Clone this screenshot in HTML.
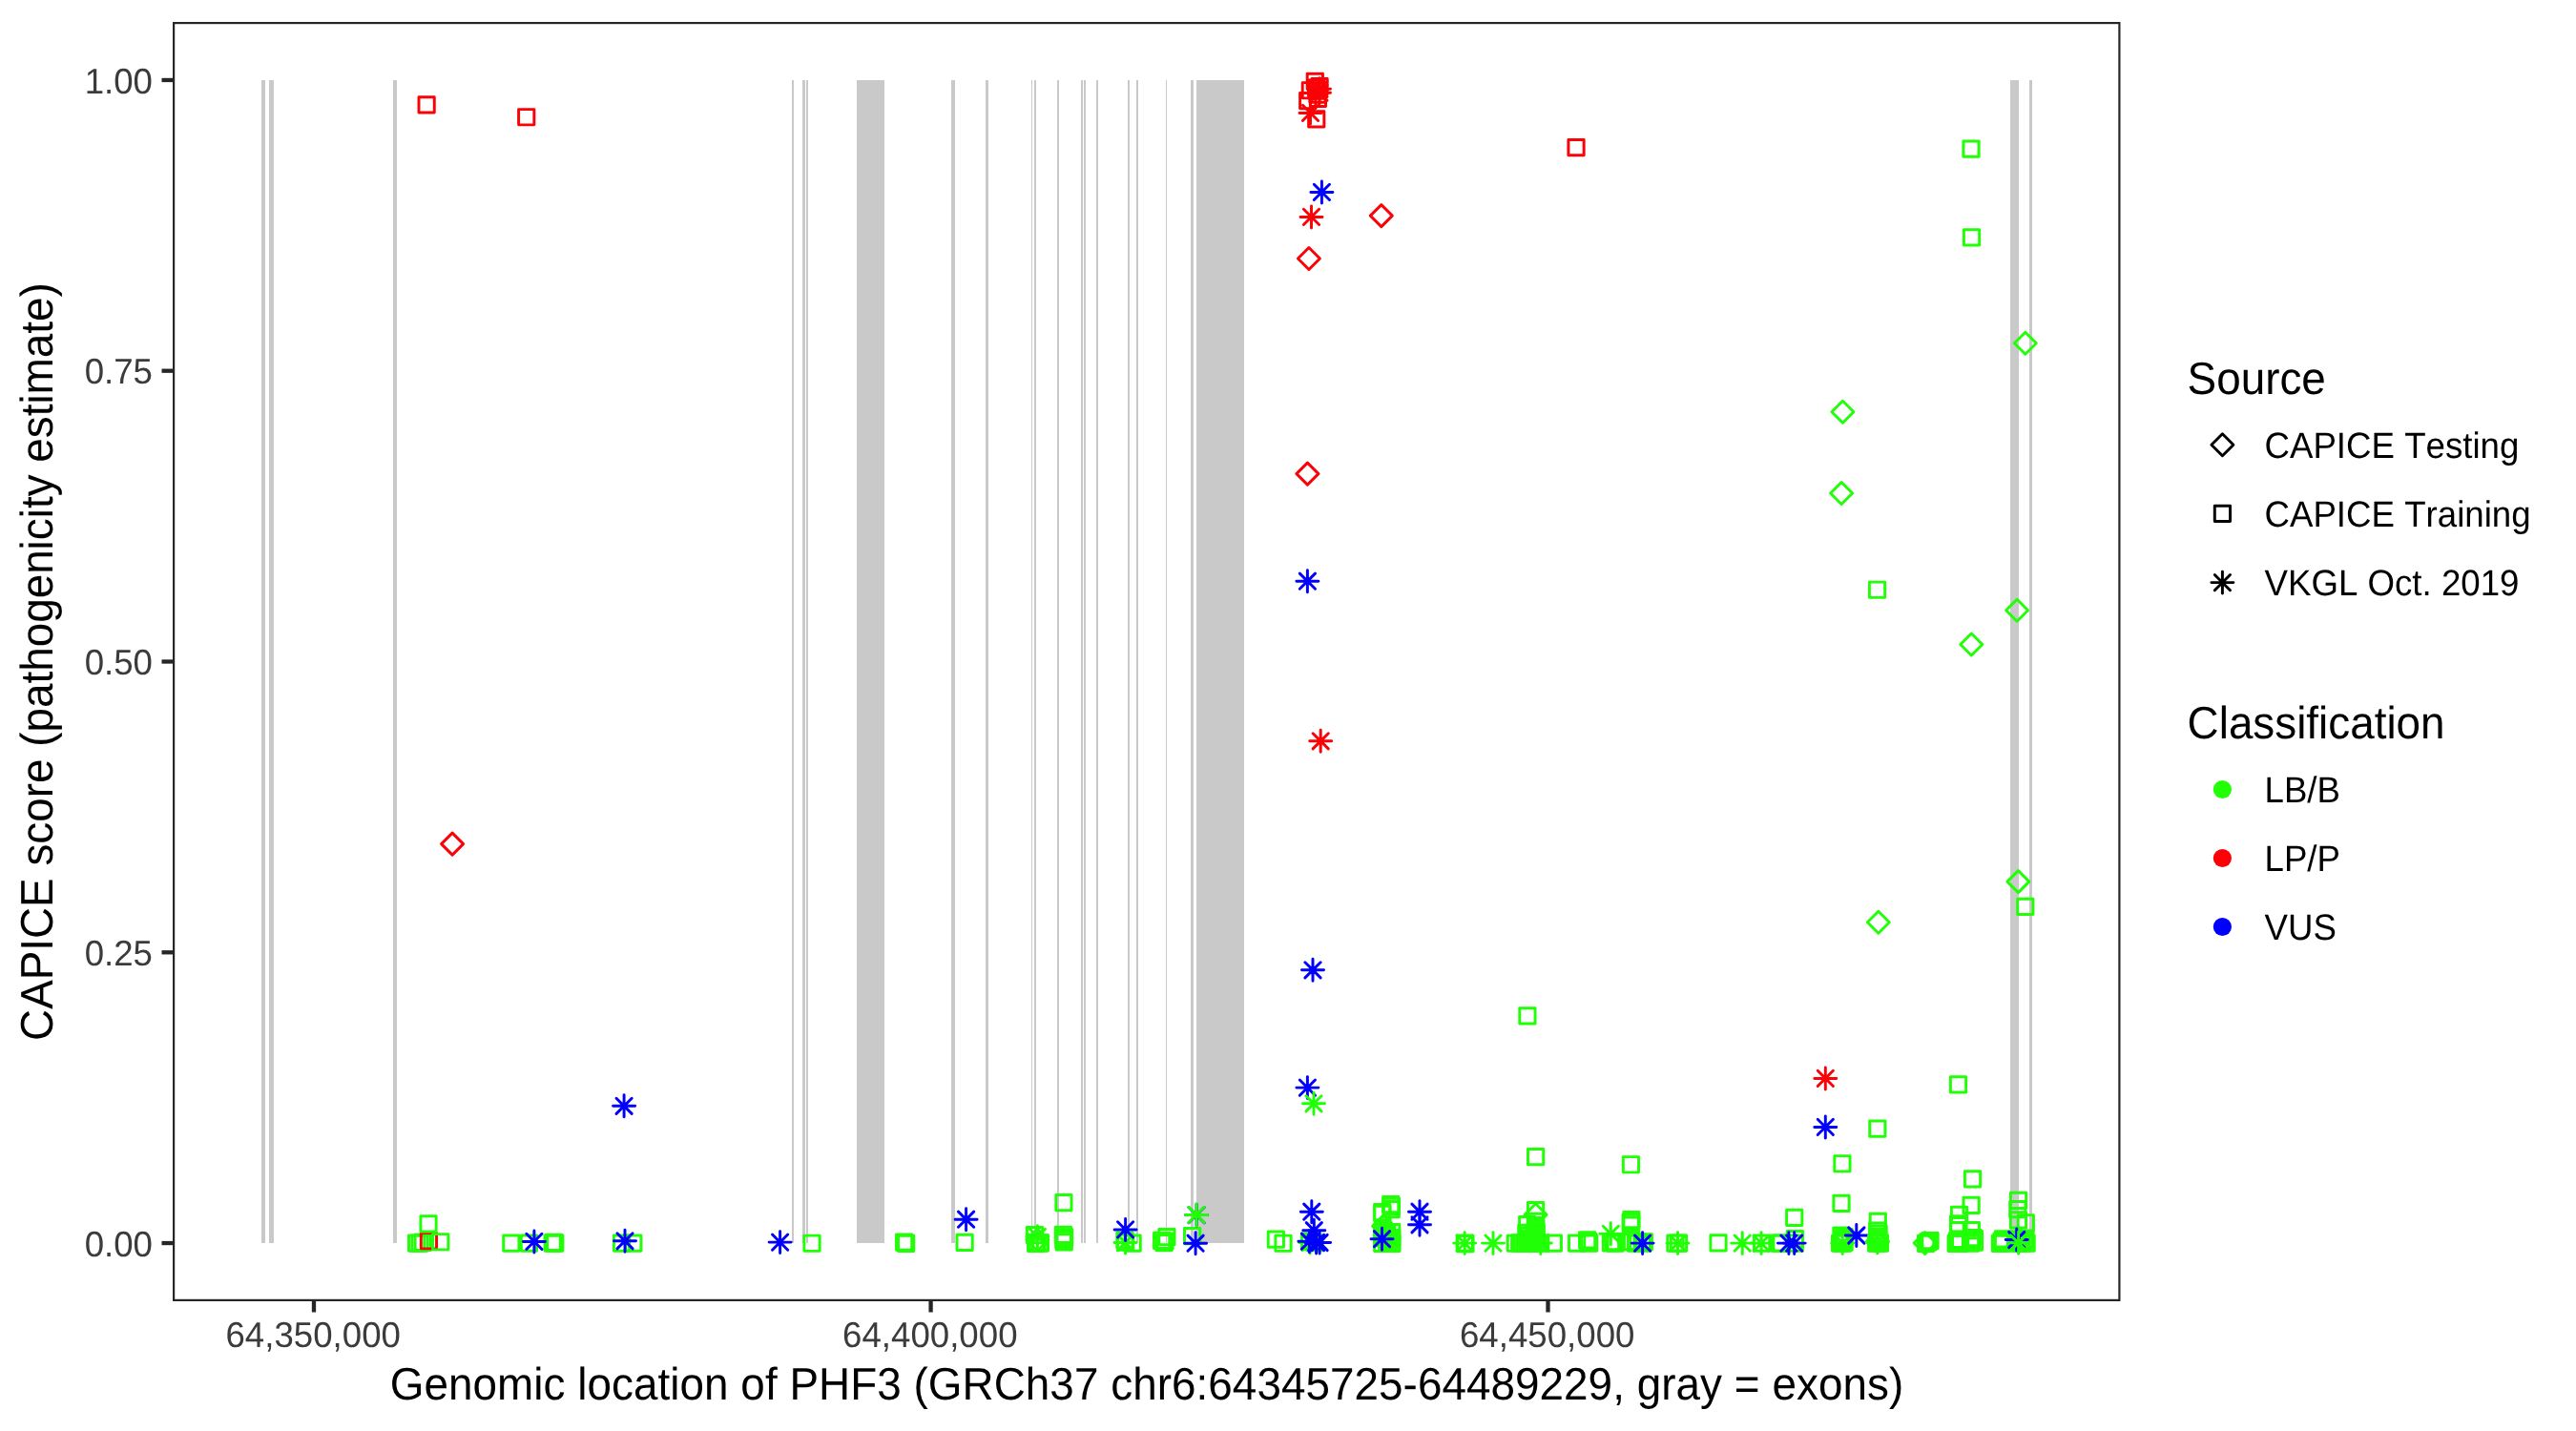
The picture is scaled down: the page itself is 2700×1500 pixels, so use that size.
<!DOCTYPE html>
<html lang="en"><head><meta charset="utf-8"><title>CAPICE score PHF3</title>
<style>html,body{margin:0;padding:0;background:#fff}svg{display:block;will-change:transform}text{font-family:"Liberation Sans",sans-serif;font-kerning:none;text-rendering:geometricPrecision}.at{font-size:36.67px;fill:#3b3b3b}.tt{font-size:45.83px;fill:#000}.lt{font-size:36.67px;fill:#000}</style></head><body>
<svg width="2700" height="1500" viewBox="0 0 2700 1500">
<rect width="2700" height="1500" fill="#fff"/>
<g fill="#c9c9c9" shape-rendering="crispEdges">
<rect x="274" y="84" width="4" height="1219"/>
<rect x="282" y="84" width="5" height="1219"/>
<rect x="412" y="84" width="4" height="1219"/>
<rect x="830" y="84" width="2" height="1219"/>
<rect x="841" y="84" width="3" height="1219"/>
<rect x="845" y="84" width="2" height="1219"/>
<rect x="898" y="84" width="29" height="1219"/>
<rect x="997" y="84" width="4" height="1219"/>
<rect x="1033" y="84" width="3" height="1219"/>
<rect x="1081" y="84" width="1" height="1219"/>
<rect x="1084" y="84" width="2" height="1219"/>
<rect x="1108" y="84" width="2" height="1219"/>
<rect x="1133" y="84" width="2" height="1219"/>
<rect x="1136" y="84" width="2" height="1219"/>
<rect x="1149" y="84" width="2" height="1219"/>
<rect x="1182" y="84" width="2" height="1219"/>
<rect x="1191" y="84" width="2" height="1219"/>
<rect x="1222" y="84" width="1" height="1219"/>
<rect x="1248" y="84" width="3" height="1219"/>
<rect x="1254" y="84" width="50" height="1219"/>
<rect x="2107" y="84" width="9" height="1219"/>
<rect x="2127" y="84" width="3" height="1219"/>
</g>
<g fill="none" stroke-width="2.95" stroke-linecap="round" stroke-linejoin="round">
<rect x="439.0" y="101.8" width="16.25" height="16.25" stroke="#fb0207"/>
<rect x="543.6" y="114.6" width="16.25" height="16.25" stroke="#fb0207"/>
<path d="M462.6 884.6L474.1 873.1L485.6 884.6L474.1 896.1Z" stroke="#fb0207"/>
<path d="M642.6 1159.3H665.6M654.1 1147.8V1170.8M646.0 1151.2L662.2 1167.4M646.0 1167.4L662.2 1151.2" stroke="#0000ff"/>
<rect x="428.5" y="1294.9" width="16.25" height="16.25" stroke="#21ff06"/>
<rect x="431.9" y="1294.9" width="16.25" height="16.25" stroke="#21ff06"/>
<rect x="435.1" y="1294.3" width="16.25" height="16.25" stroke="#21ff06"/>
<rect x="441.3" y="1292.6" width="16.25" height="16.25" stroke="#fb0207"/>
<rect x="440.9" y="1274.7" width="16.25" height="16.25" stroke="#21ff06"/>
<rect x="453.6" y="1293.6" width="16.25" height="16.25" stroke="#21ff06"/>
<rect x="527.7" y="1295.0" width="16.25" height="16.25" stroke="#21ff06"/>
<rect x="546.3" y="1295.0" width="16.25" height="16.25" stroke="#21ff06"/>
<rect x="571.0" y="1295.0" width="16.25" height="16.25" stroke="#21ff06"/>
<rect x="573.6" y="1295.0" width="16.25" height="16.25" stroke="#21ff06"/>
<rect x="572.3" y="1294.1" width="16.25" height="16.25" stroke="#21ff06"/>
<path d="M548.4 1301.4H571.4M559.9 1289.9V1312.9M551.8 1293.3L568.0 1309.5M551.8 1309.5L568.0 1293.3" stroke="#0000ff"/>
<rect x="643.4" y="1294.9" width="16.25" height="16.25" stroke="#21ff06"/>
<rect x="655.7" y="1294.9" width="16.25" height="16.25" stroke="#21ff06"/>
<path d="M643.5 1300.8H666.5M655.0 1289.3V1312.3M646.9 1292.7L663.1 1308.9M646.9 1308.9L663.1 1292.7" stroke="#0000ff"/>
<path d="M806.1 1302.1H829.1M817.6 1290.6V1313.6M809.5 1294.0L825.7 1310.2M809.5 1310.2L825.7 1294.0" stroke="#0000ff"/>
<rect x="842.9" y="1295.1" width="16.25" height="16.25" stroke="#21ff06"/>
<rect x="939.5" y="1294.0" width="16.25" height="16.25" stroke="#21ff06"/>
<rect x="941.5" y="1295.2" width="16.25" height="16.25" stroke="#21ff06"/>
<rect x="1003.0" y="1294.3" width="16.25" height="16.25" stroke="#21ff06"/>
<path d="M1001.1 1278.2H1024.1M1012.6 1266.7V1289.7M1004.5 1270.1L1020.7 1286.3M1004.5 1286.3L1020.7 1270.1" stroke="#0000ff"/>
<rect x="1076.4" y="1286.5" width="16.25" height="16.25" stroke="#21ff06"/>
<rect x="1077.5" y="1295.3" width="16.25" height="16.25" stroke="#21ff06"/>
<rect x="1082.3" y="1294.6" width="16.25" height="16.25" stroke="#21ff06"/>
<rect x="1078.4" y="1294.2" width="16.25" height="16.25" stroke="#21ff06"/>
<rect x="1081.6" y="1294.9" width="16.25" height="16.25" stroke="#21ff06"/>
<path d="M1075.9 1299.5L1087.4 1288.0L1098.9 1299.5L1087.4 1311.0Z" stroke="#21ff06"/>
<path d="M1075.9 1296.3H1098.9M1087.4 1284.8V1307.8M1079.3 1288.2L1095.5 1304.4M1079.3 1304.4L1095.5 1288.2" stroke="#21ff06"/>
<rect x="1106.8" y="1252.5" width="16.25" height="16.25" stroke="#21ff06"/>
<rect x="1106.3" y="1286.3" width="16.25" height="16.25" stroke="#21ff06"/>
<rect x="1107.5" y="1288.8" width="16.25" height="16.25" stroke="#21ff06"/>
<rect x="1106.7" y="1291.3" width="16.25" height="16.25" stroke="#21ff06"/>
<rect x="1107.1" y="1293.7" width="16.25" height="16.25" stroke="#21ff06"/>
<path d="M1168.0 1302.5H1191.0M1179.5 1291.0V1314.0M1171.4 1294.4L1187.6 1310.6M1171.4 1310.6L1187.6 1294.4" stroke="#21ff06"/>
<rect x="1170.8" y="1292.1" width="16.25" height="16.25" stroke="#21ff06"/>
<rect x="1171.5" y="1294.0" width="16.25" height="16.25" stroke="#21ff06"/>
<rect x="1179.0" y="1295.0" width="16.25" height="16.25" stroke="#21ff06"/>
<path d="M1168.1 1288.9H1191.1M1179.6 1277.4V1300.4M1171.5 1280.8L1187.7 1297.0M1171.5 1297.0L1187.7 1280.8" stroke="#0000ff"/>
<rect x="1214.8" y="1288.5" width="16.25" height="16.25" stroke="#21ff06"/>
<rect x="1209.5" y="1292.3" width="16.25" height="16.25" stroke="#21ff06"/>
<rect x="1211.9" y="1294.4" width="16.25" height="16.25" stroke="#21ff06"/>
<rect x="1212.9" y="1292.9" width="16.25" height="16.25" stroke="#21ff06"/>
<rect x="1241.5" y="1287.5" width="16.25" height="16.25" stroke="#21ff06"/>
<path d="M1242.6 1273.6H1265.6M1254.1 1262.1V1285.1M1246.0 1265.5L1262.2 1281.7M1246.0 1281.7L1262.2 1265.5" stroke="#0000ff"/>
<path d="M1242.5 1273.4H1265.5M1254.0 1261.9V1284.9M1245.9 1265.3L1262.1 1281.5M1245.9 1281.5L1262.1 1265.3" stroke="#21ff06"/>
<path d="M1241.6 1303.2H1264.6M1253.1 1291.7V1314.7M1245.0 1295.1L1261.2 1311.3M1245.0 1311.3L1261.2 1295.1" stroke="#0000ff"/>
<rect x="1329.2" y="1290.9" width="16.25" height="16.25" stroke="#21ff06"/>
<rect x="1336.9" y="1295.1" width="16.25" height="16.25" stroke="#21ff06"/>
<rect x="1364.5" y="1292.9" width="16.25" height="16.25" stroke="#21ff06"/>
<rect x="1370.0" y="1294.6" width="16.25" height="16.25" stroke="#21ff06"/>
<path d="M1361.6 1302.5H1384.6M1373.1 1291.0V1314.0M1365.0 1294.4L1381.2 1310.6M1365.0 1310.6L1381.2 1294.4" stroke="#21ff06"/>
<path d="M1363.3 1270.2H1386.3M1374.8 1258.7V1281.7M1366.7 1262.1L1382.9 1278.3M1366.7 1278.3L1382.9 1262.1" stroke="#0000ff"/>
<path d="M1365.8 1289.7H1388.8M1377.3 1278.2V1301.2M1369.2 1281.6L1385.4 1297.8M1369.2 1297.8L1385.4 1281.6" stroke="#0000ff"/>
<path d="M1360.9 1301.2H1383.9M1372.4 1289.7V1312.7M1364.3 1293.1L1380.5 1309.3M1364.3 1309.3L1380.5 1293.1" stroke="#0000ff"/>
<path d="M1368.1 1302.5H1391.1M1379.6 1291.0V1314.0M1371.5 1294.4L1387.7 1310.6M1371.5 1310.6L1387.7 1294.4" stroke="#0000ff"/>
<path d="M1371.6 1302.5H1394.6M1383.1 1291.0V1314.0M1375.0 1294.4L1391.2 1310.6M1375.0 1310.6L1391.2 1294.4" stroke="#0000ff"/>
<path d="M1358.9 1140.1H1381.9M1370.4 1128.6V1151.6M1362.3 1132.0L1378.5 1148.2M1362.3 1148.2L1378.5 1132.0" stroke="#0000ff"/>
<path d="M1365.5 1156.8H1388.5M1377.0 1145.3V1168.3M1368.9 1148.7L1385.1 1164.9M1368.9 1164.9L1385.1 1148.7" stroke="#21ff06"/>
<path d="M1364.5 1016.8H1387.5M1376.0 1005.3V1028.3M1367.9 1008.7L1384.1 1024.9M1367.9 1024.9L1384.1 1008.7" stroke="#0000ff"/>
<path d="M1358.9 609.2H1381.9M1370.4 597.7V620.7M1362.3 601.1L1378.5 617.3M1362.3 617.3L1378.5 601.1" stroke="#0000ff"/>
<path d="M1358.9 496.6L1370.4 485.1L1381.9 496.6L1370.4 508.1Z" stroke="#fb0207"/>
<path d="M1372.7 776.8H1395.7M1384.2 765.3V788.3M1376.1 768.7L1392.3 784.9M1376.1 784.9L1392.3 768.7" stroke="#fb0207"/>
<path d="M1360.4 271.0L1371.9 259.5L1383.4 271.0L1371.9 282.5Z" stroke="#fb0207"/>
<path d="M1363.0 227.4H1386.0M1374.5 215.9V238.9M1366.4 219.3L1382.6 235.5M1366.4 235.5L1382.6 219.3" stroke="#fb0207"/>
<path d="M1373.9 201.4H1396.9M1385.4 189.9V212.9M1377.3 193.3L1393.5 209.5M1377.3 209.5L1393.5 193.3" stroke="#0000ff"/>
<path d="M1436.3 226.1L1447.8 214.6L1459.3 226.1L1447.8 237.6Z" stroke="#fb0207"/>
<rect x="1370.2" y="77.3" width="16.25" height="16.25" stroke="#fb0207"/>
<rect x="1374.9" y="82.4" width="16.25" height="16.25" stroke="#fb0207"/>
<rect x="1365.2" y="86.6" width="16.25" height="16.25" stroke="#fb0207"/>
<rect x="1362.6" y="97.5" width="16.25" height="16.25" stroke="#fb0207"/>
<rect x="1373.3" y="95.2" width="16.25" height="16.25" stroke="#fb0207"/>
<rect x="1371.9" y="86.9" width="16.25" height="16.25" stroke="#fb0207"/>
<rect x="1372.9" y="90.9" width="16.25" height="16.25" stroke="#fb0207"/>
<rect x="1371.4" y="83.9" width="16.25" height="16.25" stroke="#fb0207"/>
<path d="M1371.5 93.3H1394.5M1383.0 81.8V104.8M1374.9 85.2L1391.1 101.4M1374.9 101.4L1391.1 85.2" stroke="#fb0207"/>
<path d="M1371.5 97.2H1394.5M1383.0 85.7V108.7M1374.9 89.1L1391.1 105.3M1374.9 105.3L1391.1 89.1" stroke="#fb0207"/>
<rect x="1371.6" y="116.7" width="16.25" height="16.25" stroke="#fb0207"/>
<path d="M1362.0 118.4H1385.0M1373.5 106.9V129.9M1365.4 110.3L1381.6 126.5M1365.4 126.5L1381.6 110.3" stroke="#fb0207"/>
<rect x="1449.6" y="1254.5" width="16.25" height="16.25" stroke="#21ff06"/>
<rect x="1450.3" y="1256.2" width="16.25" height="16.25" stroke="#21ff06"/>
<rect x="1450.1" y="1259.4" width="16.25" height="16.25" stroke="#21ff06"/>
<rect x="1440.6" y="1262.5" width="16.25" height="16.25" stroke="#21ff06"/>
<rect x="1440.8" y="1264.2" width="16.25" height="16.25" stroke="#21ff06"/>
<path d="M1438.6 1285.2L1450.1 1273.7L1461.6 1285.2L1450.1 1296.7Z" stroke="#21ff06"/>
<rect x="1440.6" y="1283.5" width="16.25" height="16.25" stroke="#21ff06"/>
<rect x="1443.1" y="1286.4" width="16.25" height="16.25" stroke="#21ff06"/>
<rect x="1445.6" y="1289.3" width="16.25" height="16.25" stroke="#21ff06"/>
<rect x="1448.1" y="1292.2" width="16.25" height="16.25" stroke="#21ff06"/>
<rect x="1450.6" y="1295.1" width="16.25" height="16.25" stroke="#21ff06"/>
<rect x="1440.6" y="1295.2" width="16.25" height="16.25" stroke="#21ff06"/>
<rect x="1450.6" y="1283.5" width="16.25" height="16.25" stroke="#21ff06"/>
<rect x="1445.6" y="1295.2" width="16.25" height="16.25" stroke="#21ff06"/>
<rect x="1450.6" y="1295.2" width="16.25" height="16.25" stroke="#21ff06"/>
<rect x="1440.6" y="1289.4" width="16.25" height="16.25" stroke="#21ff06"/>
<rect x="1450.6" y="1289.4" width="16.25" height="16.25" stroke="#21ff06"/>
<rect x="1445.6" y="1284.4" width="16.25" height="16.25" stroke="#21ff06"/>
<path d="M1437.0 1298.7H1460.0M1448.5 1287.2V1310.2M1440.4 1290.6L1456.6 1306.8M1440.4 1306.8L1456.6 1290.6" stroke="#0000ff"/>
<path d="M1476.5 1270.2H1499.5M1488.0 1258.7V1281.7M1479.9 1262.1L1496.1 1278.3M1479.9 1278.3L1496.1 1262.1" stroke="#0000ff"/>
<path d="M1476.5 1283.8H1499.5M1488.0 1272.3V1295.3M1479.9 1275.7L1496.1 1291.9M1479.9 1291.9L1496.1 1275.7" stroke="#0000ff"/>
<rect x="1527.1" y="1295.0" width="16.25" height="16.25" stroke="#21ff06"/>
<rect x="1527.8" y="1295.4" width="16.25" height="16.25" stroke="#21ff06"/>
<path d="M1523.7 1303.1H1546.7M1535.2 1291.6V1314.6M1527.1 1295.0L1543.3 1311.2M1527.1 1311.2L1543.3 1295.0" stroke="#21ff06"/>
<path d="M1553.5 1303.1H1576.5M1565.0 1291.6V1314.6M1556.9 1295.0L1573.1 1311.2M1556.9 1311.2L1573.1 1295.0" stroke="#21ff06"/>
<rect x="1580.2" y="1295.1" width="16.25" height="16.25" stroke="#21ff06"/>
<rect x="1584.6" y="1294.7" width="16.25" height="16.25" stroke="#21ff06"/>
<rect x="1587.4" y="1295.1" width="16.25" height="16.25" stroke="#21ff06"/>
<rect x="1590.3" y="1294.7" width="16.25" height="16.25" stroke="#21ff06"/>
<rect x="1593.2" y="1295.1" width="16.25" height="16.25" stroke="#21ff06"/>
<rect x="1596.1" y="1294.7" width="16.25" height="16.25" stroke="#21ff06"/>
<rect x="1598.9" y="1295.1" width="16.25" height="16.25" stroke="#21ff06"/>
<rect x="1601.7" y="1294.7" width="16.25" height="16.25" stroke="#21ff06"/>
<rect x="1606.6" y="1294.9" width="16.25" height="16.25" stroke="#21ff06"/>
<rect x="1601.5" y="1204.5" width="16.25" height="16.25" stroke="#21ff06"/>
<rect x="1601.4" y="1260.5" width="16.25" height="16.25" stroke="#21ff06"/>
<path d="M1598.1 1273.2L1609.6 1261.7L1621.1 1273.2L1609.6 1284.7Z" stroke="#21ff06"/>
<rect x="1592.6" y="1275.5" width="16.25" height="16.25" stroke="#21ff06"/>
<rect x="1601.5" y="1272.3" width="16.25" height="16.25" stroke="#21ff06"/>
<rect x="1601.2" y="1276.4" width="16.25" height="16.25" stroke="#21ff06"/>
<rect x="1601.6" y="1279.3" width="16.25" height="16.25" stroke="#21ff06"/>
<rect x="1601.3" y="1281.9" width="16.25" height="16.25" stroke="#21ff06"/>
<rect x="1591.7" y="1284.3" width="16.25" height="16.25" stroke="#21ff06"/>
<rect x="1602.1" y="1284.5" width="16.25" height="16.25" stroke="#21ff06"/>
<rect x="1593.9" y="1287.2" width="16.25" height="16.25" stroke="#21ff06"/>
<rect x="1599.9" y="1287.2" width="16.25" height="16.25" stroke="#21ff06"/>
<rect x="1592.4" y="1290.1" width="16.25" height="16.25" stroke="#21ff06"/>
<rect x="1601.4" y="1290.1" width="16.25" height="16.25" stroke="#21ff06"/>
<rect x="1595.9" y="1293.0" width="16.25" height="16.25" stroke="#21ff06"/>
<rect x="1597.9" y="1291.9" width="16.25" height="16.25" stroke="#21ff06"/>
<path d="M1603.3 1303.0H1626.3M1614.8 1291.5V1314.5M1606.7 1294.9L1622.9 1311.1M1606.7 1311.1L1622.9 1294.9" stroke="#21ff06"/>
<rect x="1620.2" y="1294.9" width="16.25" height="16.25" stroke="#21ff06"/>
<rect x="1644.5" y="1294.9" width="16.25" height="16.25" stroke="#21ff06"/>
<rect x="1655.5" y="1291.8" width="16.25" height="16.25" stroke="#21ff06"/>
<rect x="1657.5" y="1294.9" width="16.25" height="16.25" stroke="#21ff06"/>
<rect x="1656.5" y="1293.4" width="16.25" height="16.25" stroke="#21ff06"/>
<rect x="1680.4" y="1294.7" width="16.25" height="16.25" stroke="#21ff06"/>
<rect x="1682.9" y="1293.5" width="16.25" height="16.25" stroke="#21ff06"/>
<rect x="1685.1" y="1294.9" width="16.25" height="16.25" stroke="#21ff06"/>
<rect x="1702.4" y="1293.5" width="16.25" height="16.25" stroke="#21ff06"/>
<rect x="1706.3" y="1295.0" width="16.25" height="16.25" stroke="#21ff06"/>
<rect x="1708.7" y="1293.9" width="16.25" height="16.25" stroke="#21ff06"/>
<rect x="1713.0" y="1295.0" width="16.25" height="16.25" stroke="#21ff06"/>
<path d="M1676.8 1293.3H1699.8M1688.3 1281.8V1304.8M1680.2 1285.2L1696.4 1301.4M1680.2 1301.4L1696.4 1285.2" stroke="#21ff06"/>
<rect x="1701.3" y="1212.6" width="16.25" height="16.25" stroke="#21ff06"/>
<rect x="1701.8" y="1270.5" width="16.25" height="16.25" stroke="#21ff06"/>
<rect x="1701.0" y="1273.2" width="16.25" height="16.25" stroke="#21ff06"/>
<rect x="1701.5" y="1275.9" width="16.25" height="16.25" stroke="#21ff06"/>
<rect x="1715.2" y="1293.7" width="16.25" height="16.25" stroke="#21ff06"/>
<path d="M1710.1 1303.1H1733.1M1721.6 1291.6V1314.6M1713.5 1295.0L1729.7 1311.2M1713.5 1311.2L1729.7 1295.0" stroke="#0000ff"/>
<rect x="1747.8" y="1295.0" width="16.25" height="16.25" stroke="#21ff06"/>
<rect x="1751.4" y="1295.0" width="16.25" height="16.25" stroke="#21ff06"/>
<path d="M1747.0 1303.1H1770.0M1758.5 1291.6V1314.6M1750.4 1295.0L1766.6 1311.2M1750.4 1311.2L1766.6 1295.0" stroke="#21ff06"/>
<rect x="1592.8" y="1056.8" width="16.25" height="16.25" stroke="#21ff06"/>
<rect x="1643.9" y="146.4" width="16.25" height="16.25" stroke="#fb0207"/>
<rect x="1792.9" y="1294.8" width="16.25" height="16.25" stroke="#21ff06"/>
<path d="M1814.7 1303.1H1837.7M1826.2 1291.6V1314.6M1818.1 1295.0L1834.3 1311.2M1818.1 1311.2L1834.3 1295.0" stroke="#21ff06"/>
<rect x="1838.5" y="1295.0" width="16.25" height="16.25" stroke="#21ff06"/>
<path d="M1834.6 1303.1H1857.6M1846.1 1291.6V1314.6M1838.0 1295.0L1854.2 1311.2M1838.0 1311.2L1854.2 1295.0" stroke="#21ff06"/>
<rect x="1856.9" y="1295.0" width="16.25" height="16.25" stroke="#21ff06"/>
<rect x="1858.9" y="1295.0" width="16.25" height="16.25" stroke="#21ff06"/>
<rect x="1872.6" y="1268.3" width="16.25" height="16.25" stroke="#21ff06"/>
<rect x="1873.2" y="1290.4" width="16.25" height="16.25" stroke="#21ff06"/>
<rect x="1873.2" y="1294.9" width="16.25" height="16.25" stroke="#21ff06"/>
<path d="M1863.4 1303.1H1886.4M1874.9 1291.6V1314.6M1866.8 1295.0L1883.0 1311.2M1866.8 1311.2L1883.0 1295.0" stroke="#0000ff"/>
<path d="M1869.2 1303.1H1892.2M1880.7 1291.6V1314.6M1872.6 1295.0L1888.8 1311.2M1872.6 1311.2L1888.8 1295.0" stroke="#0000ff"/>
<rect x="1922.8" y="1211.6" width="16.25" height="16.25" stroke="#21ff06"/>
<rect x="1921.9" y="1253.3" width="16.25" height="16.25" stroke="#21ff06"/>
<rect x="1921.8" y="1286.9" width="16.25" height="16.25" stroke="#21ff06"/>
<rect x="1925.0" y="1288.4" width="16.25" height="16.25" stroke="#21ff06"/>
<rect x="1922.9" y="1290.4" width="16.25" height="16.25" stroke="#21ff06"/>
<rect x="1923.9" y="1292.7" width="16.25" height="16.25" stroke="#21ff06"/>
<rect x="1920.5" y="1295.1" width="16.25" height="16.25" stroke="#21ff06"/>
<rect x="1923.4" y="1295.1" width="16.25" height="16.25" stroke="#21ff06"/>
<rect x="1925.0" y="1293.9" width="16.25" height="16.25" stroke="#21ff06"/>
<path d="M1919.7 1302.9H1942.7M1931.2 1291.4V1314.4M1923.1 1294.8L1939.3 1311.0M1923.1 1311.0L1939.3 1294.8" stroke="#21ff06"/>
<path d="M1934.3 1295.0H1957.3M1945.8 1283.5V1306.5M1937.7 1286.9L1954.0 1303.1M1937.7 1303.1L1954.0 1286.9" stroke="#0000ff"/>
<rect x="1960.2" y="1272.3" width="16.25" height="16.25" stroke="#21ff06"/>
<rect x="1959.6" y="1282.0" width="16.25" height="16.25" stroke="#21ff06"/>
<rect x="1961.0" y="1284.9" width="16.25" height="16.25" stroke="#21ff06"/>
<rect x="1959.9" y="1288.3" width="16.25" height="16.25" stroke="#21ff06"/>
<rect x="1960.5" y="1291.5" width="16.25" height="16.25" stroke="#21ff06"/>
<rect x="1960.1" y="1294.4" width="16.25" height="16.25" stroke="#21ff06"/>
<rect x="1958.5" y="1295.0" width="16.25" height="16.25" stroke="#21ff06"/>
<rect x="1962.3" y="1295.0" width="16.25" height="16.25" stroke="#21ff06"/>
<path d="M1956.5 1301.1L1968.0 1289.6L1979.5 1301.1L1968.0 1312.6Z" stroke="#21ff06"/>
<path d="M1956.2 1302.6H1979.2M1967.7 1291.1V1314.1M1959.6 1294.5L1975.8 1310.7M1959.6 1310.7L1975.8 1294.5" stroke="#21ff06"/>
<path d="M1919.9 431.7L1931.4 420.2L1942.9 431.7L1931.4 443.2Z" stroke="#21ff06"/>
<path d="M1918.6 517.0L1930.1 505.5L1941.6 517.0L1930.1 528.5Z" stroke="#21ff06"/>
<path d="M1957.3 966.8L1968.8 955.3L1980.3 966.8L1968.8 978.3Z" stroke="#21ff06"/>
<rect x="1959.4" y="610.1" width="16.25" height="16.25" stroke="#21ff06"/>
<rect x="1959.7" y="1174.9" width="16.25" height="16.25" stroke="#21ff06"/>
<path d="M1901.8 1130.4H1924.8M1913.3 1118.9V1141.9M1905.2 1122.3L1921.4 1138.5M1905.2 1138.5L1921.4 1122.3" stroke="#fb0207"/>
<path d="M1901.8 1181.4H1924.8M1913.3 1169.9V1192.9M1905.2 1173.3L1921.4 1189.5M1905.2 1189.5L1921.4 1173.3" stroke="#0000ff"/>
<path d="M2006.1 1303.0L2017.6 1291.5L2029.1 1303.0L2017.6 1314.5Z" stroke="#21ff06"/>
<rect x="2010.5" y="1295.2" width="16.25" height="16.25" stroke="#21ff06"/>
<rect x="2012.7" y="1293.8" width="16.25" height="16.25" stroke="#21ff06"/>
<rect x="2014.9" y="1292.4" width="16.25" height="16.25" stroke="#21ff06"/>
<rect x="2059.4" y="1227.7" width="16.25" height="16.25" stroke="#21ff06"/>
<rect x="2058.0" y="1255.2" width="16.25" height="16.25" stroke="#21ff06"/>
<rect x="2045.4" y="1265.3" width="16.25" height="16.25" stroke="#21ff06"/>
<rect x="2044.5" y="1274.7" width="16.25" height="16.25" stroke="#21ff06"/>
<rect x="2044.8" y="1276.4" width="16.25" height="16.25" stroke="#21ff06"/>
<rect x="2058.2" y="1281.4" width="16.25" height="16.25" stroke="#21ff06"/>
<rect x="2042.1" y="1295.3" width="16.25" height="16.25" stroke="#21ff06"/>
<rect x="2043.4" y="1292.5" width="16.25" height="16.25" stroke="#21ff06"/>
<rect x="2044.3" y="1293.9" width="16.25" height="16.25" stroke="#21ff06"/>
<rect x="2046.5" y="1291.1" width="16.25" height="16.25" stroke="#21ff06"/>
<rect x="2045.4" y="1295.3" width="16.25" height="16.25" stroke="#21ff06"/>
<rect x="2057.4" y="1295.1" width="16.25" height="16.25" stroke="#21ff06"/>
<rect x="2058.7" y="1292.4" width="16.25" height="16.25" stroke="#21ff06"/>
<rect x="2059.9" y="1289.5" width="16.25" height="16.25" stroke="#21ff06"/>
<rect x="2061.3" y="1293.9" width="16.25" height="16.25" stroke="#21ff06"/>
<rect x="2061.3" y="1290.4" width="16.25" height="16.25" stroke="#21ff06"/>
<rect x="2107.4" y="1250.2" width="16.25" height="16.25" stroke="#21ff06"/>
<rect x="2106.7" y="1259.4" width="16.25" height="16.25" stroke="#21ff06"/>
<rect x="2107.3" y="1270.8" width="16.25" height="16.25" stroke="#21ff06"/>
<rect x="2115.2" y="1273.6" width="16.25" height="16.25" stroke="#21ff06"/>
<rect x="2088.3" y="1295.2" width="16.25" height="16.25" stroke="#21ff06"/>
<rect x="2089.9" y="1292.9" width="16.25" height="16.25" stroke="#21ff06"/>
<rect x="2091.4" y="1290.6" width="16.25" height="16.25" stroke="#21ff06"/>
<rect x="2104.5" y="1295.1" width="16.25" height="16.25" stroke="#21ff06"/>
<rect x="2107.4" y="1292.1" width="16.25" height="16.25" stroke="#21ff06"/>
<rect x="2110.6" y="1294.9" width="16.25" height="16.25" stroke="#21ff06"/>
<rect x="2113.6" y="1292.2" width="16.25" height="16.25" stroke="#21ff06"/>
<rect x="2116.0" y="1295.1" width="16.25" height="16.25" stroke="#21ff06"/>
<rect x="2105.4" y="1290.9" width="16.25" height="16.25" stroke="#21ff06"/>
<rect x="2114.9" y="1290.5" width="16.25" height="16.25" stroke="#21ff06"/>
<path d="M2102.2 1299.5H2125.2M2113.7 1288.0V1311.0M2105.6 1291.4L2121.8 1307.6M2105.6 1307.6L2121.8 1291.4" stroke="#0000ff"/>
<path d="M2104.1 1302.8H2127.1M2115.6 1291.3V1314.3M2107.4 1294.7L2123.7 1310.9M2107.4 1310.9L2123.7 1294.7" stroke="#21ff06"/>
<rect x="2057.9" y="148.0" width="16.25" height="16.25" stroke="#21ff06"/>
<rect x="2058.4" y="240.7" width="16.25" height="16.25" stroke="#21ff06"/>
<rect x="2114.7" y="942.3" width="16.25" height="16.25" stroke="#21ff06"/>
<rect x="2044.4" y="1128.7" width="16.25" height="16.25" stroke="#21ff06"/>
<path d="M2111.3 359.8L2122.8 348.3L2134.3 359.8L2122.8 371.3Z" stroke="#21ff06"/>
<path d="M2102.6 639.7L2114.1 628.2L2125.6 639.7L2114.1 651.2Z" stroke="#21ff06"/>
<path d="M2054.8 675.5L2066.3 664.0L2077.8 675.5L2066.3 687.0Z" stroke="#21ff06"/>
<path d="M2103.9 924.1L2115.4 912.6L2126.9 924.1L2115.4 935.6Z" stroke="#21ff06"/>
</g>
<rect x="182.1" y="24.1" width="2039.3" height="1338.8" fill="none" stroke="#262626" stroke-width="2.2"/>
<g stroke="#262626" stroke-width="4.3">
<path d="M169.5 83.95H181"/>
<path d="M169.5 388.7H181"/>
<path d="M169.5 693.5H181"/>
<path d="M169.5 998.3H181"/>
<path d="M169.5 1303.05H181"/>
<path d="M329 1364V1375.5"/>
<path d="M975.6 1364V1375.5"/>
<path d="M1622.5 1364V1375.5"/>
</g>
<text class="at" transform="translate(160 97.5) scale(1 1.025)" text-anchor="end">1.00</text>
<text class="at" transform="translate(160 402.3) scale(1 1.025)" text-anchor="end">0.75</text>
<text class="at" transform="translate(160 707.1) scale(1 1.025)" text-anchor="end">0.50</text>
<text class="at" transform="translate(160 1011.9) scale(1 1.025)" text-anchor="end">0.25</text>
<text class="at" transform="translate(160 1316.6) scale(1 1.025)" text-anchor="end">0.00</text>
<text class="at" transform="translate(328.2 1412) scale(1 1.025)" text-anchor="middle">64,350,000</text>
<text class="at" transform="translate(974.8 1412) scale(1 1.025)" text-anchor="middle">64,400,000</text>
<text class="at" transform="translate(1621.7 1412) scale(1 1.025)" text-anchor="middle">64,450,000</text>
<text class="tt" transform="translate(1202 1467.2) scale(1 1.042)" text-anchor="middle" letter-spacing="0.045">Genomic location of PHF3 (GRCh37 chr6:64345725-64489229, gray = exons)</text>
<text class="tt" transform="translate(55 693.6) rotate(-90) scale(1 1.042)" text-anchor="middle">CAPICE score (pathogenicity estimate)</text>
<text class="tt" transform="translate(2292.6 413.1) scale(1 1.042)">Source</text>
<g fill="none" stroke-width="2.95" stroke-linecap="round" stroke-linejoin="round">
<path d="M2317.9 466.3L2329.4 454.8L2340.9 466.3L2329.4 477.8Z" stroke="#000"/>
<rect x="2321.3" y="530.3" width="16.25" height="16.25" stroke="#000"/>
<path d="M2317.9 610.6H2340.9M2329.4 599.1V622.1M2321.3 602.5L2337.5 618.7M2321.3 618.7L2337.5 602.5" stroke="#000"/>
</g>
<text class="lt" transform="translate(2373.5 479.9) scale(1 1.042)">CAPICE Testing</text>
<text class="lt" transform="translate(2373.5 551.8) scale(1 1.042)">CAPICE Training</text>
<text class="lt" transform="translate(2373.5 624) scale(1 1.042)">VKGL Oct. 2019</text>
<text class="tt" transform="translate(2292.6 773.8) scale(1 1.042)">Classification</text>
<circle cx="2329.4" cy="827.5" r="9.6" fill="#21ff06"/>
<circle cx="2329.4" cy="899.5" r="9.6" fill="#fb0207"/>
<circle cx="2329.4" cy="971.5" r="9.6" fill="#0000ff"/>
<text class="lt" transform="translate(2373.5 840.9) scale(1 1.042)">LB/B</text>
<text class="lt" transform="translate(2373.5 913) scale(1 1.042)">LP/P</text>
<text class="lt" transform="translate(2373.5 985) scale(1 1.042)">VUS</text>
</svg></body></html>
